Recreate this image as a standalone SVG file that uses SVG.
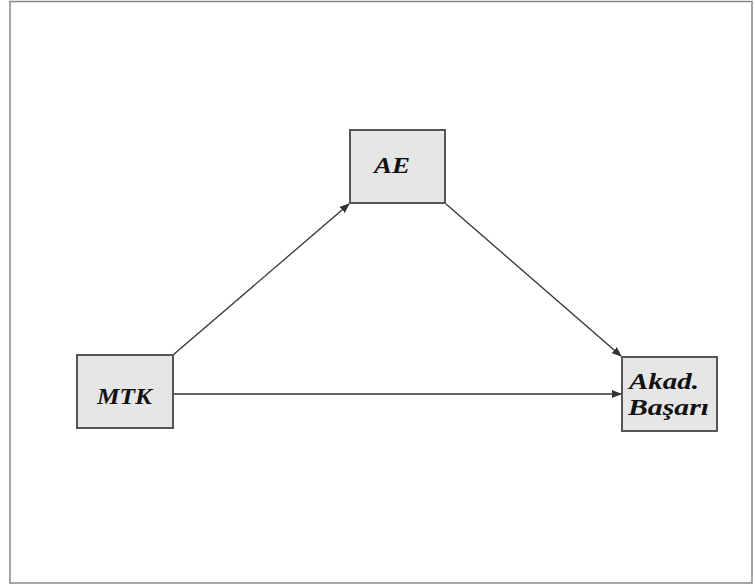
<svg xmlns="http://www.w3.org/2000/svg" width="755" height="588" viewBox="0 0 755 588">
<style>
.box{fill:#e6e6e6;stroke:#555;stroke-width:2}
.t{font-family:"Liberation Serif",serif;font-weight:bold;font-style:italic;font-size:23px;fill:#111}
.c{stroke:#333;stroke-width:1.3;fill:none;marker-end:url(#ah)}
</style>
<defs>
<marker id="ah" markerWidth="10" markerHeight="8" refX="9" refY="4" orient="auto" markerUnits="userSpaceOnUse">
<path d="M0,0 L10,4 L0,8 Z" fill="#333"/>
</marker>
</defs>
<rect x="10" y="1.5" width="742" height="581.5" fill="#fff" stroke="#888" stroke-width="1.5"/>
<g id="connectors">
<line class="c" x1="173" y1="355" x2="349" y2="204"/>
<line class="c" x1="446" y1="204" x2="621" y2="356"/>
<line class="c" x1="174" y1="394" x2="621" y2="394"/>
</g>
<g id="AE">
<rect class="box" x="350" y="130" width="95" height="73"/>
<text class="t" x="374" y="173" textLength="36" lengthAdjust="spacingAndGlyphs">AE</text>
</g>
<g id="MTK">
<rect class="box" x="77" y="355" width="96" height="73"/>
<text class="t" x="97" y="404" textLength="55" lengthAdjust="spacingAndGlyphs">MTK</text>
</g>
<g id="Akad">
<rect class="box" x="622" y="357" width="95" height="74"/>
<text class="t" x="629" y="389" textLength="70" lengthAdjust="spacingAndGlyphs">Akad.</text>
<text class="t" x="628" y="415" textLength="81" lengthAdjust="spacingAndGlyphs">Başarı</text>
</g>
</svg>
